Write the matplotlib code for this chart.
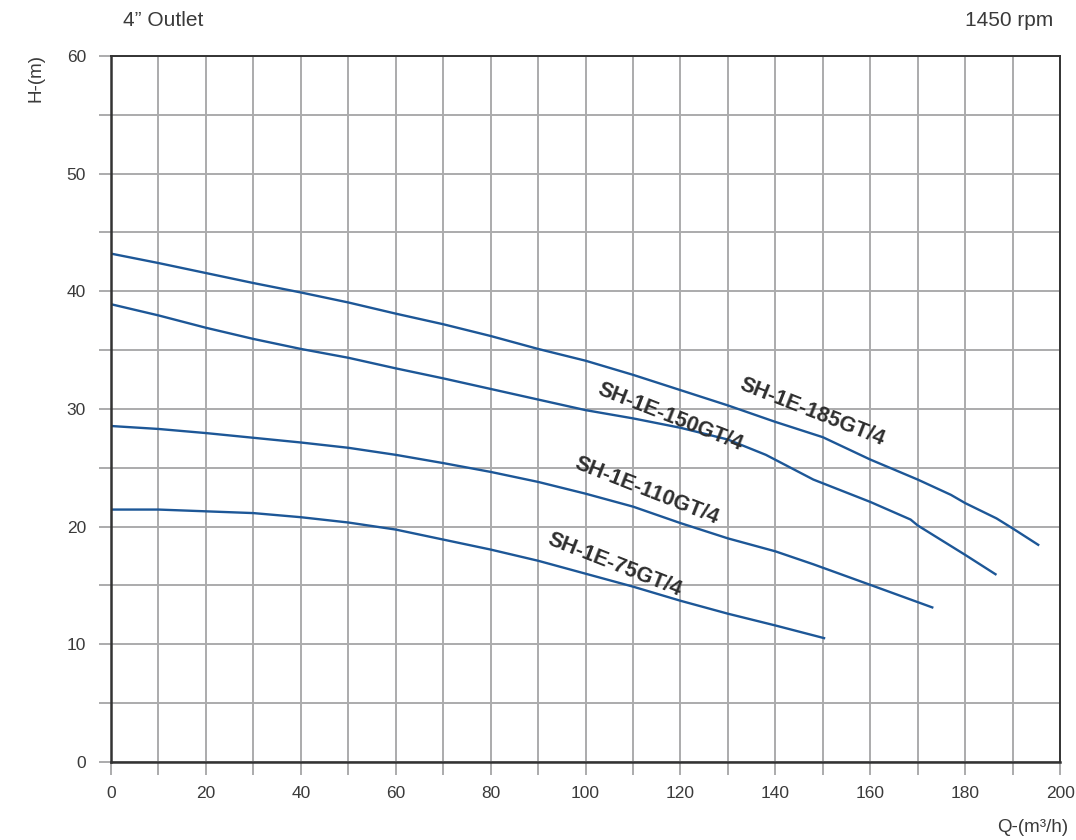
"""
Pump performance curves, SH-1E series, 4" outlet.
"""
import matplotlib
matplotlib.use("Agg")
import matplotlib.pyplot as plt
from matplotlib.ticker import MultipleLocator

plt.rcParams['font.family'] = ['Liberation Sans', 'DejaVu Sans']

# flow Q (m3/h) and head H (m)
q_185 = [0, 10, 20, 30, 40, 50, 60, 70, 80, 90, 100, 110, 120, 130, 140, 150, 160, 170, 177, 180, 186.6, 190, 195.6]
h_185 = [43.2, 42.4, 41.55, 40.7, 39.9, 39.05, 38.1, 37.2, 36.2, 35.1, 34.1, 32.9, 31.6, 30.3, 28.9, 27.6, 25.7, 24.0, 22.7, 22.0, 20.7, 19.85, 18.4]

q_150 = [0, 10, 20, 30, 40, 50, 60, 70, 80, 90, 100, 110, 120, 130, 138, 148, 160, 168.5, 170, 177, 180, 186.6]
h_150 = [38.9, 37.95, 36.9, 35.95, 35.1, 34.35, 33.45, 32.6, 31.7, 30.8, 29.9, 29.2, 28.4, 27.4, 26.1, 24.0, 22.1, 20.6, 20.1, 18.35, 17.6, 15.9]

q_110 = [0, 10, 20, 30, 40, 50, 60, 70, 80, 90, 100, 110, 120, 130, 140, 148, 160, 173.3]
h_110 = [28.55, 28.3, 27.95, 27.55, 27.15, 26.7, 26.1, 25.4, 24.65, 23.8, 22.8, 21.7, 20.3, 19.0, 17.9, 16.8, 15.05, 13.1]

q_75 = [0, 10, 20, 30, 40, 50, 60, 70, 80, 90, 100, 110, 120, 130, 140, 150.5]
h_75 = [21.45, 21.45, 21.3, 21.15, 20.8, 20.35, 19.75, 18.9, 18.05, 17.1, 16.0, 14.9, 13.7, 12.6, 11.6, 10.5]

models = ['SH-1E-185GT/4', 'SH-1E-150GT/4', 'SH-1E-110GT/4', 'SH-1E-75GT/4']
label_q = [147.8, 117.8, 113.0, 106.2]
label_h = [29.7, 29.3, 23.0, 16.7]

LINE_COLOR = '#1d5797'
GRID_COLOR = '#ababac'
TEXT_COLOR = '#3a3a3a'

fig = plt.figure(figsize=(10.76, 8.4), dpi=100)
ax = fig.add_axes([0.1032, 0.0929, 0.8820, 0.8405])

for q, h in [(q_185, h_185), (q_150, h_150), (q_110, h_110), (q_75, h_75)]:
    ax.plot(q, h, color=LINE_COLOR, lw=1.7, solid_capstyle='butt', zorder=3)

for name, lq, lh in zip(models, label_q, label_h):
    ax.text(lq, lh, name, rotation=-21.5, rotation_mode='anchor', ha='center', va='center',
            fontsize=15.5, fontweight='bold', color='#2e2e2e', zorder=4)

ax.set_xlim(0, 200)
ax.set_ylim(0, 60)
ax.xaxis.set_major_locator(MultipleLocator(20))
ax.xaxis.set_minor_locator(MultipleLocator(10))
ax.yaxis.set_major_locator(MultipleLocator(10))
ax.yaxis.set_minor_locator(MultipleLocator(5))
ax.grid(which='both', color=GRID_COLOR, lw=1.4, zorder=1)
ax.set_axisbelow(True)
ax.tick_params(which='both', direction='out', length=9, width=1.4, color=GRID_COLOR,
               labelsize=12.5, labelcolor=TEXT_COLOR)
ax.tick_params(axis='y', pad=9)
ax.tick_params(axis='x', pad=8)

for side in ['left', 'bottom']:
    ax.spines[side].set_color('#333333')
    ax.spines[side].set_linewidth(1.8)
for side in ['right', 'top']:
    ax.spines[side].set_color('#333333')
    ax.spines[side].set_linewidth(1.4)
for s in ax.spines.values():
    s.set_zorder(5)

fig.text(123 / 1076, 1 - 20 / 840, '4\u201d Outlet', fontsize=15, color=TEXT_COLOR, ha='left', va='center')
fig.text(1053 / 1076, 1 - 20 / 840, '1450 rpm', fontsize=15, color=TEXT_COLOR, ha='right', va='center')
fig.text(36 / 1076, 1 - 78 / 840, 'H-(m)', fontsize=13.5, color=TEXT_COLOR, rotation=90, ha='center', va='center')
fig.text(1068 / 1076, 1 - 827 / 840, 'Q-(m\u00b3/h)', fontsize=13.5, color=TEXT_COLOR, ha='right', va='center')

fig.savefig('out.png', dpi=100)
